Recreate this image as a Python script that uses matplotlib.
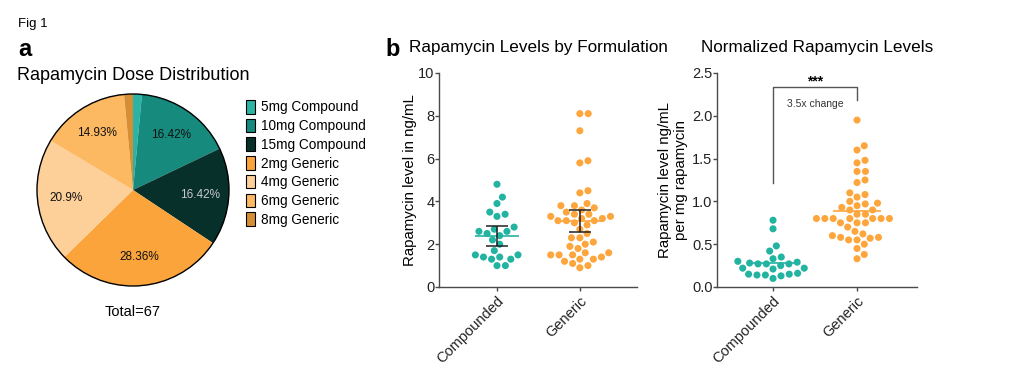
import numpy as np
import matplotlib
matplotlib.use("Agg")
import matplotlib.pyplot as plt
from matplotlib.patches import Patch, Circle

plt.rcParams['font.family'] = ['Liberation Sans', 'DejaVu Sans']

# pie data
dose_labels = ["5mg Compound", "10mg Compound", "15mg Compound",
               "2mg Generic", "4mg Generic", "6mg Generic", "8mg Generic"]
dose_counts = [1, 11, 11, 19, 14, 10, 1]
dose_colors = ["#2bb3a3", "#178a7e", "#07302b",
               "#fba43c", "#fdd09a", "#fdb862", "#d58e33"]
pct_text_colors = ["#111111", "#111111", "#c8c8c8",
                   "#111111", "#111111", "#111111", "#111111"]

# levels in ng/mL
levels_compounded = [4.8, 4.2, 3.9, 3.5, 3.4, 3.3, 2.8, 2.7, 2.6, 2.6, 2.5, 2.4,
                     2.2, 2.0, 1.7, 1.5, 1.5, 1.4, 1.4, 1.3, 1.3, 1.0, 1.0]
levels_generic = [8.1, 8.1, 7.3, 5.9, 5.8, 4.5, 4.4, 3.9, 3.8, 3.8, 3.7, 3.6,
                  3.4, 3.4, 3.3, 3.3, 3.2, 3.2, 3.1, 3.1, 3.1, 3.0, 2.7, 2.5,
                  2.3, 2.3, 2.1, 1.9, 1.6, 1.6, 1.5, 1.5, 1.5, 1.4, 1.3, 1.3,
                  1.2, 1.1, 1.0, 0.9, 2.9, 3.5, 1.8, 2.0]
levels_mean = [2.37, 3.07]
levels_err_low = [1.92, 2.55]
levels_err_high = [2.84, 3.62]

# normalized levels, ng/mL per mg
norm_compounded = [0.78, 0.68, 0.48, 0.42, 0.35, 0.33, 0.30, 0.28, 0.29, 0.27,
                   0.27, 0.27, 0.25, 0.22, 0.22, 0.21, 0.15, 0.16, 0.15, 0.13,
                   0.14, 0.14, 0.10]
norm_generic = [1.95, 1.65, 1.60, 1.48, 1.45, 1.35, 1.35, 1.25, 1.22, 1.10,
                1.05, 1.08, 1.00, 0.98, 0.97, 0.95, 0.93, 0.90, 0.90, 0.85,
                0.85, 0.80, 0.80, 0.80, 0.80, 0.80, 0.80, 0.80, 0.75, 0.75,
                0.75, 0.70, 0.65, 0.62, 0.60, 0.58, 0.57, 0.58, 0.55, 0.55,
                0.50, 0.45, 0.38, 0.33]
norm_mean = [0.285, 0.885]

groups = ["Compounded", "Generic"]
teal = "#22b3a1"
orange = "#fda63e"
axis_col = "#4a4a4a"


def swarm(vals, ypx, xpx, d):
    """simple beeswarm offsets (data units) for one column"""
    vals = np.asarray(vals, dtype=float)
    offs = np.zeros(len(vals))
    placed = []
    for i in np.argsort(vals):
        y = vals[i] * ypx
        cands = [0.0]
        for px, py in placed:
            dy = y - py
            if abs(dy) < d:
                dx = np.sqrt(d * d - dy * dy)
                cands += [px + dx, px - dx]
        cands.sort(key=abs)
        for c in cands:
            if all((c - px) ** 2 + (y - py) ** 2 >= d * d - 1e-6 for px, py in placed):
                offs[i] = c / xpx
                placed.append((c, y))
                break
    return offs


fig = plt.figure(figsize=(10.24, 3.69), dpi=100)
W, H = 1024, 369

fig.text(18 / W, 1 - 24 / H, "Fig 1", fontsize=9.5, va="center")
fig.text(18 / W, 1 - 49 / H, "a", fontsize=17, fontweight="bold", va="center")
fig.text(17 / W, 1 - 75 / H, "Rapamycin Dose Distribution", fontsize=13, va="center")
fig.text(385 / W, 1 - 49 / H, "b", fontsize=17, fontweight="bold", va="center")

# ---- pie ----
r = 96
axp = fig.add_axes([(133 - 110) / W, (H - 190 - 110) / H, 220 / W, 220 / H])
wedges, _, autotexts = axp.pie(dose_counts, colors=dose_colors, startangle=90,
                                counterclock=False, radius=r / 110,
                                autopct=lambda p: f"{round(p, 2):g}%" if p > 5 else "",
                                pctdistance=0.7, wedgeprops=dict(linewidth=0),
                                textprops=dict(fontsize=8.5))
for t, c in zip(autotexts, pct_text_colors):
    t.set_color(c)
axp.add_patch(Circle((0, 0), r / 110, fill=False, edgecolor="black", linewidth=1))
axp.set_xlim(-1, 1)
axp.set_ylim(-1, 1)
axp.set_aspect("equal")
axp.axis("off")
fig.text(133 / W, 1 - 312 / H, "Total=67", fontsize=10.5, ha="center", va="center")

handles = [Patch(facecolor=c, edgecolor="black", linewidth=0.8) for c in dose_colors]
fig.legend(handles, dose_labels, loc="upper left", bbox_to_anchor=(246 / W, 1 - 100 / H),
           frameon=False, fontsize=9.8, handlelength=0.68, handleheight=1.15,
           handletextpad=0.45, labelspacing=0.32, borderpad=0, borderaxespad=0)


def style_axes(ax):
    for s in ["top", "right"]:
        ax.spines[s].set_visible(False)
    for s in ["left", "bottom"]:
        ax.spines[s].set_linewidth(1.0)
        ax.spines[s].set_color(axis_col)
    ax.tick_params(axis="both", direction="out", length=2.8, width=1.0,
                   labelsize=10.5, color=axis_col, labelcolor="#222222", pad=0.5)
    ax.set_xticks([0, 1])
    ax.set_xticklabels(groups, rotation=45, ha="right", rotation_mode="anchor",
                       fontsize=10.5)
    ax.tick_params(axis="x", pad=2)


# ---- levels ----
ax1 = fig.add_axes([439 / W, (H - 287) / H, 198 / W, 214 / H])
ax1.set_xlim(-0.70, 1.69)
ax1.set_ylim(0, 10)
for i, (vals, col) in enumerate([(levels_compounded, teal), (levels_generic, orange)]):
    xo = swarm(vals, 21.4, 83, 8.4)
    ax1.scatter(i + xo, vals, s=26, color=col, edgecolors="none", zorder=3)
    ax1.hlines(levels_mean[i], i - 0.27, i + 0.27, color=col, linewidth=1.2, zorder=4)
    ax1.vlines(i, levels_err_low[i], levels_err_high[i], color="#222222",
               linewidth=1.1, zorder=5)
    ax1.hlines([levels_err_low[i], levels_err_high[i]], i - 0.13, i + 0.13,
               color="#222222", linewidth=1.1, zorder=5)
ax1.set_yticks([0, 2, 4, 6, 8, 10])
style_axes(ax1)
ax1.set_ylabel("Rapamycin level in ng/mL", fontsize=10.8, labelpad=1)
ax1.set_title("Rapamycin Levels by Formulation", fontsize=12.3, pad=15)

# ---- normalized ----
ax2 = fig.add_axes([717 / W, (H - 287) / H, 200 / W, 214 / H])
ax2.set_xlim(-0.667, 1.714)
ax2.set_ylim(0, 2.5)
for i, (vals, col) in enumerate([(norm_compounded, teal), (norm_generic, orange)]):
    xo = swarm(vals, 85.6, 84, 8.4)
    ax2.scatter(i + xo, vals, s=26, color=col, edgecolors="none", zorder=3)
    ax2.hlines(norm_mean[i], i - 0.29, i + 0.29, color=col, linewidth=1.2, zorder=4)
ax2.set_yticks([0, 0.5, 1.0, 1.5, 2.0, 2.5])
ax2.set_yticklabels(["0.0", "0.5", "1.0", "1.5", "2.0", "2.5"])
style_axes(ax2)
ax2.set_ylabel("Rapamycin level ng/mL\nper mg rapamycin", fontsize=10.8, labelpad=3)
ax2.set_title("Normalized Rapamycin Levels", fontsize=12.3, pad=15)
ax2.plot([0, 0, 1, 1], [1.215, 2.34, 2.34, 2.18], color="#555555", linewidth=1.0)
ax2.text(0.5, 2.40, "***", ha="center", va="center", fontsize=10, fontweight="bold")
ax2.text(0.5, 2.14, "3.5x change", ha="center", va="center", fontsize=7.5,
         color="#333333")

fig.savefig("out.png", dpi=100)
